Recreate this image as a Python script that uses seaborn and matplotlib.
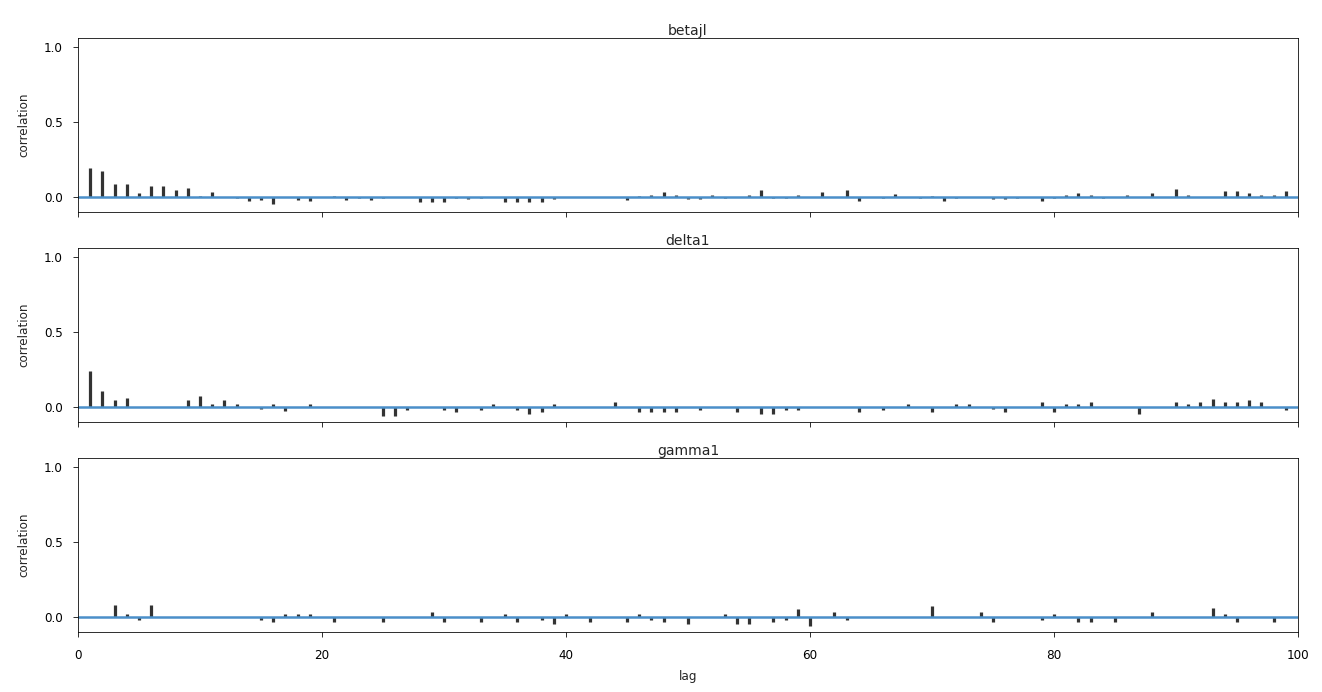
import numpy as np
import pandas as pd
import matplotlib
matplotlib.use("Agg")
import matplotlib.pyplot as plt
import seaborn as sns

# Autocorrelation estimates for lags 1..100 of each sampled parameter
lags = list(range(1, 101))

betajl = [
    0.193, 0.171, 0.087, 0.087, 0.027, 0.073, 0.073, 0.049, 0.058, 0.005,
    0.036, 0.0, -0.005, -0.025, -0.022, -0.045, -0.003, -0.022, -0.030, 0.0,
    0.005, -0.020, -0.005, -0.020, -0.005, 0.0, 0.0, -0.033, -0.033, -0.033,
    -0.005, -0.015, -0.005, 0.0, -0.033, -0.033, -0.033, -0.033, -0.015, 0.0,
    -0.003, 0.003, 0.0, 0.0, -0.020, 0.005, 0.015, 0.030, 0.015, -0.015,
    -0.015, 0.015, -0.005, 0.003, 0.015, 0.045, -0.005, -0.005, 0.015, 0.0,
    0.030, 0.0, 0.045, -0.030, 0.0, -0.005, 0.020, 0.0, -0.005, 0.005,
    -0.030, -0.005, 0.003, 0.003, -0.015, -0.015, -0.005, 0.003, -0.030, -0.005,
    0.015, 0.028, 0.015, -0.005, 0.0, 0.015, 0.0, 0.025, -0.003, 0.055,
    0.015, -0.003, -0.003, 0.040, 0.040, 0.028, 0.015, 0.015, 0.040, 0.0,
]

delta1 = [
    0.240, 0.107, 0.047, 0.060, 0.0, 0.0, 0.0, 0.003, 0.047, 0.071,
    0.022, 0.047, 0.022, 0.0, -0.015, 0.020, -0.030, -0.003, 0.020, -0.003,
    0.003, -0.003, 0.0, 0.0, -0.058, -0.060, -0.020, 0.003, 0.0, -0.020,
    -0.035, -0.003, -0.020, 0.020, 0.0, -0.020, -0.045, -0.035, 0.020, 0.0,
    0.0, 0.002, 0.002, 0.030, 0.0, -0.035, -0.035, -0.035, -0.035, -0.003,
    -0.020, -0.003, -0.003, -0.035, -0.003, -0.050, -0.050, -0.020, -0.020, 0.0,
    0.003, 0.0, 0.0, -0.035, -0.003, -0.020, 0.0, 0.020, -0.003, -0.035,
    0.0, 0.020, 0.020, -0.003, -0.015, -0.035, -0.003, 0.0, 0.030, -0.035,
    0.020, 0.020, 0.030, 0.003, -0.003, 0.003, -0.050, 0.003, -0.003, 0.030,
    0.020, 0.030, 0.055, 0.030, 0.030, 0.045, 0.030, 0.0, -0.020, 0.0,
]

gamma1 = [
    0.003, -0.003, 0.080, 0.020, -0.020, 0.080, 0.003, 0.0, 0.0, 0.003,
    0.0, -0.003, 0.003, 0.0, -0.020, -0.035, 0.020, 0.020, 0.020, -0.003,
    -0.035, 0.0, 0.003, 0.003, -0.035, 0.0, 0.0, -0.003, 0.035, -0.035,
    0.003, 0.0, -0.035, 0.003, 0.020, -0.035, -0.003, -0.020, -0.050, 0.020,
    -0.003, -0.035, 0.003, -0.003, -0.035, 0.020, -0.020, -0.035, 0.003, -0.050,
    -0.003, 0.003, 0.020, -0.050, -0.050, 0.003, -0.035, -0.020, 0.055, -0.060,
    0.0, 0.030, -0.020, 0.0, 0.003, -0.003, -0.003, 0.0, 0.003, 0.070,
    0.003, -0.003, 0.0, 0.035, -0.035, 0.0, 0.0, -0.003, -0.020, 0.020,
    -0.003, -0.035, -0.035, 0.0, -0.035, 0.0, -0.003, 0.035, -0.003, 0.0,
    -0.003, -0.003, 0.060, 0.020, -0.035, 0.003, -0.003, -0.035, 0.003, 0.0,
]

params = ["betajl", "delta1", "gamma1"]
series = [betajl, delta1, gamma1]
max_lag = 100

sns.set_style("ticks")
plt.rcParams["font.family"] = ["DejaVu Sans"]

fig, axes = plt.subplots(3, 1, figsize=(1322 / 72, 692 / 72), dpi=72, sharex=True)
fig.subplots_adjust(left=78 / 1322, right=1298 / 1322, top=1 - 38 / 692,
                    bottom=1 - 632 / 692, hspace=36 / 174)

for ax, name, vals in zip(axes, params, series):
    df = pd.DataFrame({"lag": lags, "corr": vals})
    ax.vlines(df["lag"], 0, df["corr"], colors="#333333", lw=3.2)
    zero = pd.DataFrame({"lag": [0, max_lag], "corr": [0.0, 0.0]})
    sns.lineplot(data=zero, x="lag", y="corr", ax=ax, color="#4a8fc9", lw=2.5)
    ax.set_xlim(0, max_lag)
    ax.set_ylim(-0.1, 1.06)
    ax.set_yticks([0.0, 0.5, 1.0])
    ax.set_xticks(range(0, 101, 20))
    ax.set_title(name, fontsize=14, pad=3)
    ax.set_ylabel("correlation", fontsize=12, labelpad=14)
    ax.set_xlabel("")
    for s in ax.spines.values():
        s.set_visible(True)
        s.set_linewidth(0.8)
        s.set_color("black")
    ax.tick_params(direction="out", length=5, width=0.8, colors="black",
                   labelsize=12)
    ax.tick_params(axis="y", pad=10)
    ax.tick_params(axis="x", pad=12)

axes[-1].set_xlabel("lag", fontsize=12, labelpad=8)

fig.savefig("out.png", dpi=72, facecolor="white")
